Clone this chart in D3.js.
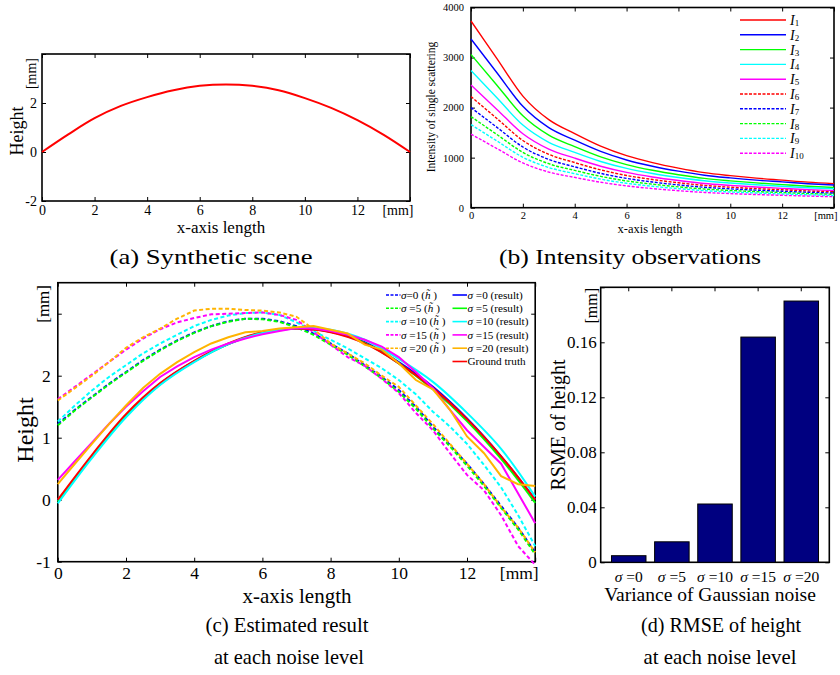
<!DOCTYPE html>
<html>
<head>
<meta charset="utf-8">
<script src="https://cdn.jsdelivr.net/npm/d3@7"></script>
<style>
body { margin: 0; background: #fff; }
text { font-family: "Liberation Serif", "Times New Roman", serif; }
</style>
</head>
<body>
<script>
// ---- data ----
const xInt = [0, 1, 2, 3, 4, 5, 6, 7, 8, 9, 10, 11, 12, 13, 14];
const xHalf = [0, 0.5, 1, 1.5, 2, 2.5, 3, 3.5, 4, 4.5, 5, 5.5, 6, 6.5, 7, 7.5, 8, 8.5, 9, 9.5, 10, 10.5, 11, 11.5, 12, 12.5, 13, 13.5, 14];

// (a) synthetic scene
const sceneHeight = [0, 0.72, 1.38, 1.88, 2.24, 2.52, 2.70, 2.76, 2.70, 2.52, 2.20, 1.80, 1.30, 0.70, 0];

// (b) intensity observations
const i1 = [3730, 2980, 2230, 1760, 1480, 1230, 1040, 900, 790, 700, 640, 590, 550, 510, 480];
const i2 = [3370, 2697, 2025, 1600, 1349, 1125, 954, 829, 730, 649, 595, 550, 515, 479, 452];
const i3 = [3060, 2448, 1836, 1450, 1221, 1017, 862, 748, 658, 585, 536, 495, 462, 430, 405];
const i4 = [2740, 2196, 1651, 1307, 1104, 923, 785, 683, 603, 538, 494, 458, 429, 400, 378];
const i5 = [2450, 1964, 1478, 1171, 990, 828, 705, 614, 543, 484, 446, 413, 387, 361, 342];
const i6 = [2220, 1781, 1343, 1066, 902, 756, 644, 563, 498, 446, 410, 381, 358, 334, 317];
const i7 = [2000, 1606, 1213, 964, 817, 686, 586, 513, 455, 408, 376, 350, 329, 308, 292];
const i8 = [1820, 1462, 1105, 879, 745, 626, 535, 469, 416, 373, 344, 321, 302, 282, 268];
const i9 = [1660, 1334, 1008, 802, 680, 571, 488, 428, 380, 341, 314, 293, 275, 258, 245];
const i10 = [1470, 1182, 894, 712, 605, 509, 436, 382, 340, 305, 282, 263, 248, 232, 221];
const intensityNames = ["1", "2", "3", "4", "5", "6", "7", "8", "9", "10"];

// (c) estimated result
const groundTruth = [0, 0.72, 1.38, 1.88, 2.24, 2.52, 2.70, 2.76, 2.70, 2.52, 2.20, 1.80, 1.30, 0.70, 0];
const res0 = [-0.02, 0.70, 1.36, 1.87, 2.23, 2.51, 2.69, 2.76, 2.71, 2.54, 2.22, 1.82, 1.31, 0.70, 0.0];
const res5 = [-0.03, 0.70, 1.36, 1.86, 2.23, 2.51, 2.70, 2.76, 2.71, 2.53, 2.20, 1.78, 1.27, 0.66, -0.05];
const res10 = [-0.06, 0.67, 1.33, 1.85, 2.22, 2.51, 2.69, 2.77, 2.74, 2.58, 2.27, 1.90, 1.40, 0.82, 0.05];
const res15 = [0.32, 0.62, 0.92, 1.22, 1.50, 1.75, 1.98, 2.15, 2.30, 2.42, 2.52, 2.60, 2.67, 2.72, 2.77, 2.76, 2.72, 2.66, 2.58, 2.47, 2.30, 2.06, 1.80, 1.45, 1.12, 0.85, 0.58, 0.10, -0.38];
const res20 = [0.25, 0.58, 0.90, 1.22, 1.52, 1.80, 2.03, 2.22, 2.38, 2.52, 2.62, 2.70, 2.72, 2.76, 2.78, 2.80, 2.74, 2.68, 2.50, 2.42, 2.20, 1.93, 1.78, 1.45, 1.02, 0.75, 0.38, 0.25, 0.22];
const init0 = [1.22, 1.45, 1.66, 1.87, 2.06, 2.25, 2.42, 2.57, 2.70, 2.80, 2.88, 2.92, 2.92, 2.88, 2.80, 2.68, 2.52, 2.36, 2.17, 1.98, 1.77, 1.50, 1.18, 0.88, 0.58, 0.25, -0.10, -0.45, -0.85];
const init5 = [1.20, 1.44, 1.65, 1.86, 2.05, 2.24, 2.41, 2.56, 2.69, 2.80, 2.87, 2.92, 2.91, 2.87, 2.78, 2.66, 2.50, 2.34, 2.15, 1.96, 1.74, 1.47, 1.15, 0.86, 0.55, 0.22, -0.13, -0.48, -0.88];
const init10 = [1.26, 1.52, 1.76, 1.98, 2.17, 2.36, 2.52, 2.66, 2.80, 2.90, 2.97, 3.01, 3.02, 2.98, 2.86, 2.72, 2.58, 2.44, 2.28, 2.12, 1.93, 1.70, 1.42, 1.18, 0.90, 0.56, 0.20, -0.25, -0.75];
const init15 = [1.62, 1.82, 2.02, 2.22, 2.42, 2.60, 2.75, 2.86, 2.93, 2.99, 3.00, 3.01, 3.02, 2.98, 2.90, 2.70, 2.50, 2.30, 2.16, 1.95, 1.72, 1.40, 1.12, 0.75, 0.40, 0.15, -0.25, -0.75, -1.05];
const init20 = [1.60, 1.80, 2.00, 2.22, 2.45, 2.62, 2.76, 2.92, 3.05, 3.08, 3.08, 3.06, 3.05, 3.02, 2.95, 2.75, 2.52, 2.36, 2.20, 2.00, 1.82, 1.52, 1.22, 0.90, 0.58, 0.25, -0.12, -0.45, -0.85];

// (d) RMSE
const noiseLevels = ["0", "5", "10", "15", "20"];
const rmse = [0.0048, 0.0149, 0.0424, 0.1638, 0.190];

const xTicks = [0, 2, 4, 6, 8, 10, 12, 14];

const svg = d3.select("body").append("svg")
    .attr("width", 840)
    .attr("height", 675);
svg.append("rect").attr("width", 840).attr("height", 675).attr("fill", "#fff");

// frame with inward ticks on all four sides
function drawFrame(x, y, o) {
    const g = svg.append("g");
    const [x0, x1] = x.range();
    const [y0, y1] = y.range();
    g.append("g").attr("transform", `translate(0,${y0})`)
        .call(d3.axisBottom(x).tickValues(o.xTicks).tickSizeInner(-4).tickSizeOuter(0)
            .tickPadding(o.xPad).tickFormat(o.xFmt))
        .attr("font-size", o.fs).attr("font-family", null)
        .call(s => s.select(".domain").remove());
    g.append("g").attr("transform", `translate(0,${y1})`)
        .call(d3.axisTop(x).tickValues(o.xTicks).tickSizeInner(-4).tickSizeOuter(0).tickFormat(""))
        .call(s => s.select(".domain").remove());
    g.append("g").attr("transform", `translate(${x0},0)`)
        .call(d3.axisLeft(y).tickValues(o.yTicks).tickSizeInner(-4).tickSizeOuter(0)
            .tickPadding(o.yPad).tickFormat(o.yFmt))
        .attr("font-size", o.fs).attr("font-family", null)
        .call(s => s.select(".domain").remove());
    g.append("g").attr("transform", `translate(${x1},0)`)
        .call(d3.axisRight(y).tickValues(o.yTicks).tickSizeInner(-4).tickSizeOuter(0).tickFormat(""))
        .call(s => s.select(".domain").remove());
    g.selectAll(".tick line").attr("stroke-width", 1);
    g.append("rect")
        .attr("x", x0).attr("y", y1)
        .attr("width", x1 - x0).attr("height", y0 - y1)
        .attr("fill", "none").attr("stroke", "#000").attr("stroke-width", 1.6);
    return g;
}

function mmX(g) {
    // last x tick label is the unit
    g.selectAll("g.tick").filter(d => d === 14).select("text")
        .attr("text-anchor", "end").attr("dx", 3);
}

function mmY(xPos, yPos, fs) {
    svg.append("text")
        .attr("transform", `translate(${xPos},${yPos}) rotate(-90)`)
        .attr("text-anchor", "end")
        .attr("font-size", fs)
        .text("[mm]");
}

function rotLabel(xPos, yPos, fs, txt) {
    svg.append("text")
        .attr("transform", `translate(${xPos},${yPos}) rotate(-90)`)
        .attr("text-anchor", "middle")
        .attr("font-size", fs)
        .text(txt);
}

function caption(cx, cy, txt, len) {
    svg.append("text")
        .attr("x", cx).attr("y", cy)
        .attr("text-anchor", "middle")
        .attr("font-size", 21)
        .attr("textLength", len).attr("lengthAdjust", "spacingAndGlyphs")
        .text(txt);
}

// ---------- (a) ----------
{
    const x = d3.scaleLinear().domain([0, 14]).range([42, 410]);
    const y = d3.scaleLinear().domain([-2, 4]).range([201, 54]);
    const g = drawFrame(x, y, {
        xTicks: xTicks, yTicks: [-2, 0, 2, 4], fs: 14, xPad: 4, yPad: 5,
        xFmt: d => d === 14 ? "[mm]" : d, yFmt: d => d === 4 ? "" : d
    });
    mmX(g);
    mmY(36, 58, 14);
    const line = d3.line().x((d, i) => x(xInt[i])).y(d => y(d)).curve(d3.curveCatmullRom);
    svg.append("path").datum(sceneHeight)
        .attr("fill", "none").attr("stroke", "#ff0000").attr("stroke-width", 2)
        .attr("d", line);
    rotLabel(23, 131, 18, "Height");
    svg.append("text").attr("x", 221).attr("y", 232.5).attr("text-anchor", "middle")
        .attr("font-size", 17).text("x-axis length");
    caption(211, 264, "(a) Synthetic scene", 203);
}

// ---------- (b) ----------
{
    const x = d3.scaleLinear().domain([0, 14]).range([471, 834]);
    const y = d3.scaleLinear().domain([0, 4000]).range([207.7, 7.5]);
    const g = drawFrame(x, y, {
        xTicks: xTicks, yTicks: [0, 1000, 2000, 3000, 4000], fs: 10.5, xPad: 4, yPad: 7,
        xFmt: d => d === 14 ? "[mm]" : d, yFmt: d => d
    });
    mmX(g);
    const series = [i1, i2, i3, i4, i5, i6, i7, i8, i9, i10];
    const colors = ["#ff0000", "#0000ff", "#00ff00", "#00ffff", "#ff00ff"];
    const line = d3.line().x((d, i) => x(xInt[i])).y(d => y(d)).curve(d3.curveMonotoneX);
    series.forEach((s, k) => {
        svg.append("path").datum(s)
            .attr("fill", "none").attr("stroke", colors[k % 5]).attr("stroke-width", 1.4)
            .attr("stroke-dasharray", k >= 5 ? "3,1.5" : null)
            .attr("d", line);
    });
    // legend
    intensityNames.forEach((n, k) => {
        const ly = 20 + k * 14.8;
        svg.append("line").attr("x1", 740).attr("x2", 786).attr("y1", ly).attr("y2", ly)
            .attr("stroke", colors[k % 5]).attr("stroke-width", 1.4)
            .attr("stroke-dasharray", k >= 5 ? "3,1.5" : null);
        const t = svg.append("text").attr("x", 790).attr("y", ly + 5).attr("font-size", 14);
        t.append("tspan").attr("font-style", "italic").text("I");
        t.append("tspan").attr("font-size", 9).attr("dy", 1).text(n);
    });
    rotLabel(435, 107, 11.5, "Intensity of single scattering");
    svg.append("text").attr("x", 650).attr("y", 233).attr("text-anchor", "middle")
        .attr("font-size", 12.5).text("x-axis length");
    caption(630, 264, "(b) Intensity observations", 262);
}

// ---------- (c) ----------
{
    const x = d3.scaleLinear().domain([0, 14]).range([57.8, 535.2]);
    const y = d3.scaleLinear().domain([-1, 3.5]).range([561.7, 282.7]);
    const g = drawFrame(x, y, {
        xTicks: xTicks, yTicks: [-1, 0, 1, 2, 3], fs: 17.5, xPad: 5, yPad: 7,
        xFmt: d => d === 14 ? "[mm]" : d, yFmt: d => d === 3 ? "" : d
    });
    mmX(g);
    mmY(49, 285, 17);
    const half = d3.line().x((d, i) => x(xHalf[i])).y(d => y(d));
    const whole = d3.line().x((d, i) => x(xInt[i])).y(d => y(d)).curve(d3.curveCatmullRom);
    const dashed = [[init0, "#0000ff"], [init5, "#00ff00"], [init10, "#00ffff"], [init15, "#ff00ff"], [init20, "#ffb400"]];
    dashed.forEach(([s, c]) => {
        svg.append("path").datum(s).attr("fill", "none").attr("stroke", c)
            .attr("stroke-width", 2).attr("stroke-dasharray", "4,2.5").attr("d", half);
    });
    const solids = [[res0, "#0000ff", whole], [res5, "#00ff00", whole], [groundTruth, "#ff0000", whole],
        [res10, "#00ffff", whole], [res15, "#ff00ff", half], [res20, "#ffb400", half]];
    solids.forEach(([s, c, ln]) => {
        svg.append("path").datum(s).attr("fill", "none").attr("stroke", c)
            .attr("stroke-width", 2).attr("d", ln);
    });
    // legend
    const left = [["=0", "#0000ff"], [" =5", "#00ff00"], [" =10", "#00ffff"], [" =15", "#ff00ff"], [" =20", "#ffb400"]];
    left.forEach(([lab, c], k) => {
        const ly = 295 + k * 13.3;
        svg.append("line").attr("x1", 386).attr("x2", 400.5).attr("y1", ly).attr("y2", ly)
            .attr("stroke", c).attr("stroke-width", 1.6).attr("stroke-dasharray", "3,1.5");
        const t = svg.append("text").attr("x", 401).attr("y", ly + 3.8).attr("font-size", 11.2);
        t.append("tspan").attr("font-style", "italic").text("σ");
        t.append("tspan").text(lab + " (");
        t.append("tspan").attr("font-style", "italic").text("h\u0303");
        t.append("tspan").text(" )");
        svg.append("line").attr("x1", 452.5).attr("x2", 467).attr("y1", ly).attr("y2", ly)
            .attr("stroke", c).attr("stroke-width", 1.6);
        const t2 = svg.append("text").attr("x", 467.5).attr("y", ly + 3.8).attr("font-size", 11.2);
        t2.append("tspan").attr("font-style", "italic").text("σ");
        t2.append("tspan").text(" " + lab.trim() + " (result)");
    });
    svg.append("line").attr("x1", 452.5).attr("x2", 467).attr("y1", 361.5).attr("y2", 361.5)
        .attr("stroke", "#ff0000").attr("stroke-width", 1.6);
    svg.append("text").attr("x", 467.5).attr("y", 365.3).attr("font-size", 11.2).text("Ground truth");
    rotLabel(33, 430, 24, "Height");
    svg.append("text").attr("x", 297).attr("y", 603).attr("text-anchor", "middle")
        .attr("font-size", 21).text("x-axis length");
    caption(287, 632, "(c) Estimated result", 163);
    caption(289, 664, "at each noise level", 150);
}

// ---------- (d) ----------
{
    const x = d3.scaleBand().domain(noiseLevels).range([600.7, 829.3]).paddingInner(0.2).paddingOuter(0.25);
    const y = d3.scaleLinear().domain([0, 0.2]).range([562.3, 287.3]);
    const g = svg.append("g");
    g.append("g").attr("transform", "translate(0,562.3)")
        .call(d3.axisBottom(x).tickSize(0).tickPadding(9))
        .attr("font-size", 15.5).attr("font-family", null)
        .call(s => s.select(".domain").remove())
        .selectAll("text").each(function(d) {
            const t = d3.select(this).text("");
            t.append("tspan").attr("font-style", "italic").text("σ");
            t.append("tspan").text(" =" + d);
        });
    g.append("g").attr("transform", "translate(0,287.3)")
        .call(d3.axisTop(x).tickSizeInner(-4).tickSizeOuter(0).tickFormat(""))
        .call(s => s.select(".domain").remove());
    g.append("g").attr("transform", "translate(600.7,0)")
        .call(d3.axisLeft(y).tickValues([0, 0.04, 0.08, 0.12, 0.16, 0.2]).tickSizeInner(-4).tickSizeOuter(0)
            .tickPadding(4).tickFormat(d => d === 0 ? "0" : d === 0.2 ? "" : d3.format(".2f")(d)))
        .attr("font-size", 17).attr("font-family", null)
        .call(s => s.select(".domain").remove());
    g.append("g").attr("transform", "translate(829.3,0)")
        .call(d3.axisRight(y).tickValues([0, 0.04, 0.08, 0.12, 0.16, 0.2]).tickSizeInner(-4).tickSizeOuter(0).tickFormat(""))
        .call(s => s.select(".domain").remove());
    svg.selectAll(".bar").data(rmse).enter().append("rect")
        .attr("x", (d, i) => x(noiseLevels[i]))
        .attr("y", d => y(d))
        .attr("width", x.bandwidth())
        .attr("height", d => y(0) - y(d))
        .attr("fill", "#000080").attr("stroke", "#000").attr("stroke-width", 1);
    g.append("rect").attr("x", 600.7).attr("y", 287.3).attr("width", 228.6).attr("height", 275)
        .attr("fill", "none").attr("stroke", "#000").attr("stroke-width", 1.6);
    mmY(597, 288, 16);
    rotLabel(565, 425, 20, "RSME of height");
    svg.append("text").attr("x", 710).attr("y", 601).attr("text-anchor", "middle")
        .attr("font-size", 19.5).text("Variance of Gaussian noise");
    caption(721, 632, "(d) RMSE of height", 160);
    caption(720, 664, "at each noise level", 153);
}
</script>
</body>
</html>
